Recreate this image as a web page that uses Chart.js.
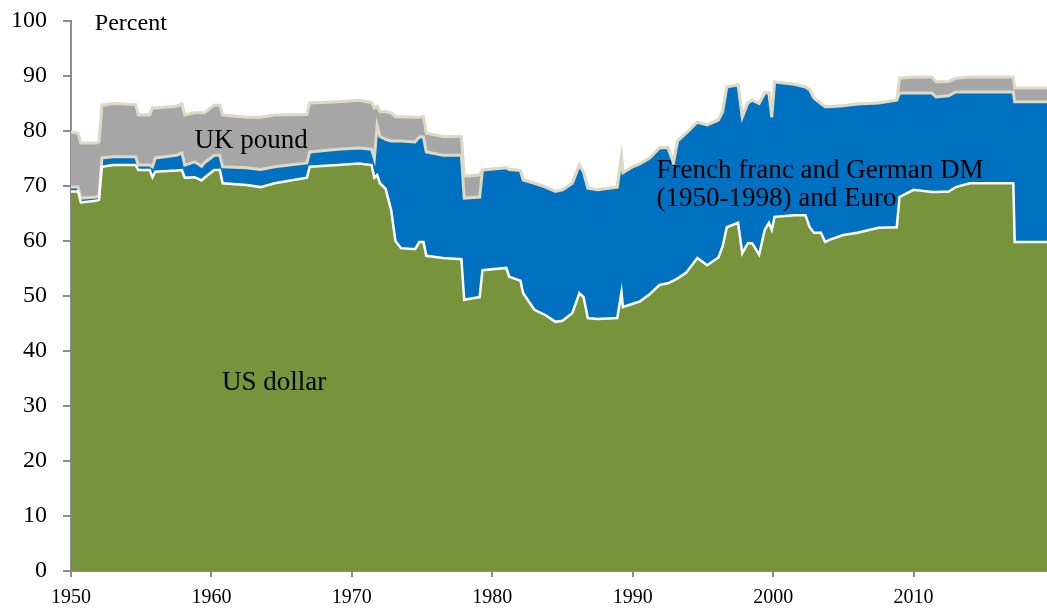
<!DOCTYPE html>
<html>
<head>
<meta charset="utf-8">
<script src="https://cdn.jsdelivr.net/npm/chart.js@4"></script>
<style>
  html, body { margin: 0; padding: 0; background: #fff; }
  #wrap { width: 1047px; height: 608px; }
</style>
</head>
<body>
<div id="wrap"><canvas id="grafico" width="1047" height="608"></canvas></div>
<script>
// anos (decimais) em que as parcelas mudam
var years = [1950.0, 1950.5, 1950.7, 1951.8, 1952.0, 1952.2, 1953.0, 1954.6, 1954.8, 1955.6,
  1955.8, 1956.0, 1957.5, 1957.9, 1958.1, 1958.8, 1959.3, 1959.5, 1960.2, 1960.6,
  1960.8, 1962.5, 1963.5, 1964.5, 1966.8, 1967.0, 1969.0, 1970.5, 1971.4, 1971.6,
  1971.8, 1972.0, 1972.4, 1972.8, 1973.1, 1973.5, 1974.5, 1974.8, 1975.1, 1975.3,
  1976.5, 1977.8, 1978.0, 1979.1, 1979.3, 1981.0, 1981.2, 1982.0, 1982.2, 1983.0,
  1983.8, 1984.5, 1985.0, 1985.7, 1986.2, 1986.5, 1986.8, 1987.5, 1988.9, 1989.2,
  1989.3, 1990.0, 1990.5, 1991.2, 1991.9, 1992.5, 1992.9, 1993.2, 1993.8, 1994.6,
  1995.3, 1996.1, 1996.4, 1996.7, 1997.5, 1997.8, 1998.2, 1998.5, 1999.0, 1999.4,
  1999.7, 1999.9, 2000.1, 2001.5, 2002.3, 2002.6, 2002.9, 2003.4, 2003.7, 2004.0,
  2005.0, 2006.0, 2007.5, 2008.8, 2009.0, 2010.0, 2011.3, 2011.6, 2012.5, 2013.0,
  2014.0, 2017.1, 2017.2, 2019.5];

// US dollar (%)
var usDollar = [69.0, 69.0, 67.0, 67.3, 67.5, 73.5, 73.8, 73.8, 72.9, 72.9,
  71.6, 72.6, 72.8, 72.9, 71.5, 71.6, 71.0, 71.5, 72.9, 72.9,
  70.5, 70.2, 69.8, 70.5, 71.5, 73.5, 73.8, 74.1, 73.8, 71.5,
  72.0, 70.5, 69.5, 65.6, 60.0, 58.7, 58.5, 59.8, 59.8, 57.3,
  56.9, 56.7, 49.3, 49.8, 54.7, 55.1, 53.5, 52.8, 50.5, 47.5,
  46.5, 45.3, 45.5, 46.9, 50.5, 49.8, 46.0, 45.8, 46.0, 50.7,
  48.0, 48.6, 49.0, 50.3, 52.0, 52.3, 52.8, 53.2, 54.2, 56.9,
  55.6, 57.0, 59.0, 62.5, 63.3, 57.8, 59.6, 59.6, 57.5, 62.0,
  63.3, 62.0, 64.4, 64.7, 64.7, 62.5, 61.5, 61.5, 59.8, 60.2,
  61.1, 61.5, 62.4, 62.5, 68.0, 69.3, 68.9, 68.9, 69.0, 69.8,
  70.5, 70.5, 59.8, 59.8];

// French franc e German DM (1950-1998) e Euro (%)
var francDmEuro = [0.8, 0.8, 0.8, 0.7, 0.7, 1.6, 1.5, 1.5, 0.9, 0.9,
  1.9, 2.5, 2.8, 3.1, 2.3, 2.8, 2.6, 2.7, 2.7, 2.7,
  3.0, 3.1, 3.2, 3.0, 2.7, 2.7, 2.9, 2.8, 2.9, 3.5,
  9.0, 8.5, 9.0, 12.6, 18.2, 19.5, 19.5, 19.1, 19.1, 18.9,
  18.7, 18.9, 18.5, 18.2, 18.2, 18.2, 19.5, 20.0, 20.6, 23.0,
  23.3, 23.7, 23.8, 23.6, 23.3, 22.7, 23.6, 23.5, 23.8, 24.6,
  24.4, 24.9, 25.0, 24.8, 24.9, 24.7, 21.4, 25.0, 25.4, 24.7,
  25.5, 25.0, 24.5, 25.5, 25.1, 24.7, 25.5, 26.0, 27.5, 24.9,
  23.6, 20.5, 24.5, 23.8, 23.3, 25.0, 24.5, 23.5, 24.6, 24.2,
  23.5, 23.4, 22.7, 23.1, 18.9, 17.6, 18.0, 17.3, 17.4, 17.3,
  16.6, 16.6, 25.5, 25.5];

// UK pound (%)
var ukPound = [10.0, 9.8, 10.0, 9.8, 9.8, 9.6, 9.7, 9.5, 9.1, 9.1,
  10.7, 9.1, 8.9, 8.9, 9.1, 8.9, 9.7, 9.1, 9.1, 9.1,
  9.4, 9.2, 9.5, 9.4, 8.8, 8.9, 8.6, 8.7, 8.5, 9.2,
  3.5, 4.5, 5.0, 5.1, 4.4, 4.4, 4.5, 3.6, 3.7, 3.4,
  3.4, 3.4, 4.0, 4.0, 0, 0, 0, 0, 0, 0,
  0, 0, 0, 0, 0, 0, 0, 0, 0, 0,
  0, 0, 0, 0, 0, 0, 0, 0, 0, 0,
  0, 0, 0, 0, 0, 0, 0, 0, 0, 0,
  0, 0, 0, 0, 0, 0, 0, 0, 0, 0,
  0, 0, 0, 0, 2.7, 2.9, 2.9, 2.7, 2.6, 2.5,
  2.7, 2.7, 2.5, 2.5];

var xTicks = [1950, 1960, 1970, 1980, 1990, 2000, 2010];
var yTicks = [0, 10, 20, 30, 40, 50, 60, 70, 80, 90, 100];

// rótulos dentro do gráfico: [texto, ano, valor, tamanho]
var notes = [
  ['Percent', 1951.7, 98.4, 24],
  ['UK pound', 1958.8, 76.9, 27],
  ['US dollar', 1960.75, 33.0, 27],
  ['French franc and German DM', 1991.7, 71.5, 27],
  ['(1950-1998) and Euro', 1991.7, 66.3, 27]
];

function pts(arr) {
  return arr.map(function (v, i) { return { x: years[i], y: v }; });
}

var serif = 'Liberation Serif, Times New Roman, serif';
var axisGray = '#8c8c8c';

var notesPlugin = {
  id: 'notes',
  afterDatasetsDraw: function (chart) {
    var ctx = chart.ctx;
    var xs = chart.scales.x, ys = chart.scales.y;
    ctx.save();
    ctx.fillStyle = '#000';
    ctx.textAlign = 'left';
    ctx.textBaseline = 'alphabetic';
    notes.forEach(function (n) {
      ctx.font = n[3] + 'px ' + serif;
      ctx.fillText(n[0], xs.getPixelForValue(n[1]), ys.getPixelForValue(n[2]));
    });
    ctx.restore();
  }
};

var data = {
  datasets: [{
    label: 'US dollar',
    data: pts(usDollar),
    backgroundColor: '#77933c',
    borderColor: '#ffffff',
    borderWidth: 2.5,
    fill: 'origin'
  }, {
    label: 'French franc and German DM (1950-1998) and Euro',
    data: pts(francDmEuro),
    backgroundColor: '#0070c0',
    borderColor: '#ddd9c3',
    borderWidth: 3,
    fill: '-1'
  }, {
    label: 'UK pound',
    data: pts(ukPound),
    backgroundColor: '#a6a6a6',
    borderColor: '#ddd9c3',
    borderWidth: 3,
    fill: '-1'
  }]
};

var options = {
  responsive: false,
  animation: false,
  layout: { padding: { top: 21, right: 0, bottom: 0, left: 0 } },
  elements: { point: { radius: 0 }, line: { tension: 0 } },
  plugins: { legend: { display: false }, tooltip: { enabled: false } },
  scales: {
    x: {
      type: 'linear',
      min: 1950,
      max: 2019.5,
      afterBuildTicks: function (s) { s.ticks = xTicks.map(function (v) { return { value: v }; }); },
      afterFit: function (s) { s.height = 37; s.paddingLeft = 0; s.paddingRight = 0; },
      ticks: {
        color: '#000', font: { family: serif, size: 20 }, padding: 9, maxRotation: 0,
        callback: function (v) { return String(v); }
      },
      grid: { drawOnChartArea: false, color: axisGray, lineWidth: 2, tickLength: 6 },
      border: { color: axisGray, width: 2 }
    },
    y: {
      stacked: true,
      min: 0,
      max: 100,
      afterBuildTicks: function (s) { s.ticks = yTicks.map(function (v) { return { value: v }; }); },
      afterFit: function (s) { s.width = 71; s.paddingTop = 0; s.paddingBottom = 0; },
      ticks: { color: '#000', font: { family: serif, size: 24 }, padding: 16 },
      grid: { drawOnChartArea: false, color: axisGray, lineWidth: 2, tickLength: 8 },
      border: { color: axisGray, width: 2 }
    }
  }
};

var ctx = document.querySelector('#grafico');
var areaChart = new Chart(ctx, {
  type: 'line',
  data: data,
  options: options,
  plugins: [notesPlugin]
});
</script>
</body>
</html>
